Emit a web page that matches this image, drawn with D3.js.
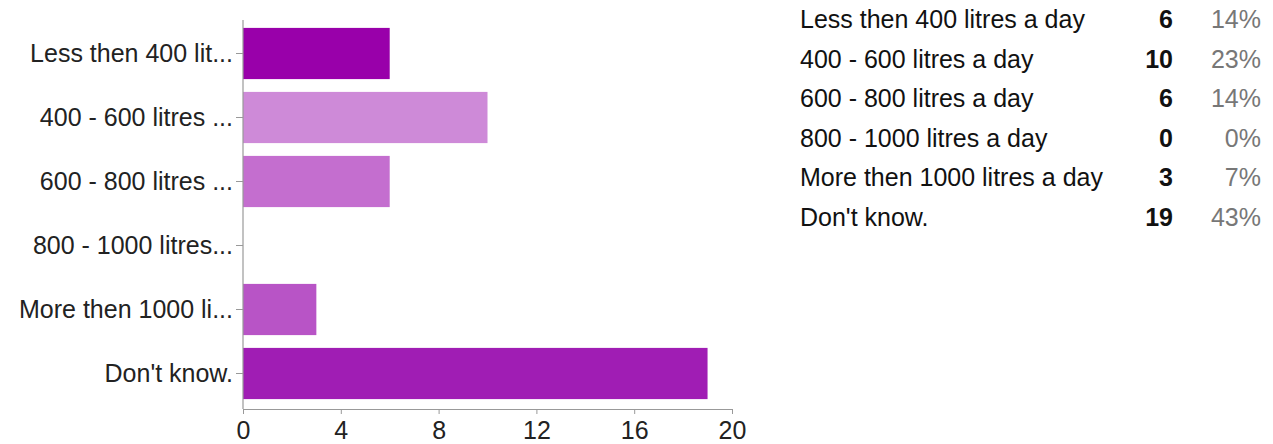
<!DOCTYPE html>
<html>
<head>
<meta charset="utf-8">
<script src="https://cdn.jsdelivr.net/npm/d3@7"></script>
<style>
  html, body { margin: 0; padding: 0; background: #fff; }
  svg { display: block; font-family: "Liberation Sans", Arial, sans-serif; }
</style>
</head>
<body>
<svg id="chart" width="1273" height="444"></svg>
<script>
// ---- data ----
const axisLabels = ["Less then 400 lit...", "400 - 600 litres ...", "600 - 800 litres ...", "800 - 1000 litres...", "More then 1000 li...", "Don't know."];
const legendLabels = ["Less then 400 litres a day", "400 - 600 litres a day", "600 - 800 litres a day", "800 - 1000 litres a day", "More then 1000 litres a day", "Don't know."];
const counts = [6, 10, 6, 0, 3, 19];
const percents = ["14%", "23%", "14%", "0%", "7%", "43%"];
const barColors = ["#9900aa", "#ce8ad8", "#c46ecf", "#bd62cb", "#b854c6", "#a01db4"];
const xTicks = [0, 4, 8, 12, 16, 20];

const svg = d3.select("#chart");

const x = d3.scaleLinear().domain([0, 20]).range([243, 732]);
const y = d3.scaleBand().domain(axisLabels).range([21.5, 405.5]).paddingInner(0.2).paddingOuter(0.1);

// bars
svg.append("g").selectAll("rect")
  .data(counts)
  .join("rect")
  .attr("x", x(0))
  .attr("y", (d, i) => y(axisLabels[i]))
  .attr("width", d => x(d) - x(0))
  .attr("height", y.bandwidth())
  .attr("fill", (d, i) => barColors[i]);

// y axis
const yAxis = svg.append("g")
  .attr("transform", `translate(${x(0)},0)`)
  .call(d3.axisLeft(y).tickSize(7).tickPadding(3).tickSizeOuter(0));
yAxis.select(".domain").remove();
yAxis.selectAll(".tick line").attr("stroke", "#999");
yAxis.selectAll(".tick text")
  .attr("font-size", 25)
  .attr("font-family", "'Liberation Sans', Arial, sans-serif")
  .attr("fill", "#222");
svg.append("line")
  .attr("x1", x(0)).attr("x2", x(0))
  .attr("y1", 20).attr("y2", 409)
  .attr("stroke", "#999").attr("stroke-width", 1.2);

// x axis
const xAxis = svg.append("g")
  .attr("transform", `translate(0,409)`)
  .call(d3.axisBottom(x).tickValues(xTicks).tickSize(5).tickPadding(7).tickSizeOuter(0));
xAxis.select(".domain").attr("stroke", "#999");
xAxis.selectAll(".tick line").attr("stroke", "#999");
xAxis.selectAll(".tick text")
  .attr("font-size", 25)
  .attr("font-family", "'Liberation Sans', Arial, sans-serif")
  .attr("fill", "#222");

// legend table
const rowY = d3.scaleLinear().domain([0, 5]).range([28.3, 225.5]);
const lg = svg.append("g").attr("font-size", 25);
lg.selectAll("text.lab").data(legendLabels).join("text")
  .attr("class", "lab")
  .attr("x", 800).attr("y", (d, i) => rowY(i))
  .attr("fill", "#111")
  .text(d => d);
lg.selectAll("text.cnt").data(counts).join("text")
  .attr("class", "cnt")
  .attr("x", 1173).attr("y", (d, i) => rowY(i))
  .attr("text-anchor", "end")
  .attr("font-weight", "bold")
  .attr("fill", "#111")
  .text(d => d);
lg.selectAll("text.pct").data(percents).join("text")
  .attr("class", "pct")
  .attr("x", 1261).attr("y", (d, i) => rowY(i))
  .attr("text-anchor", "end")
  .attr("fill", "#777")
  .text(d => d);
</script>
</body>
</html>
